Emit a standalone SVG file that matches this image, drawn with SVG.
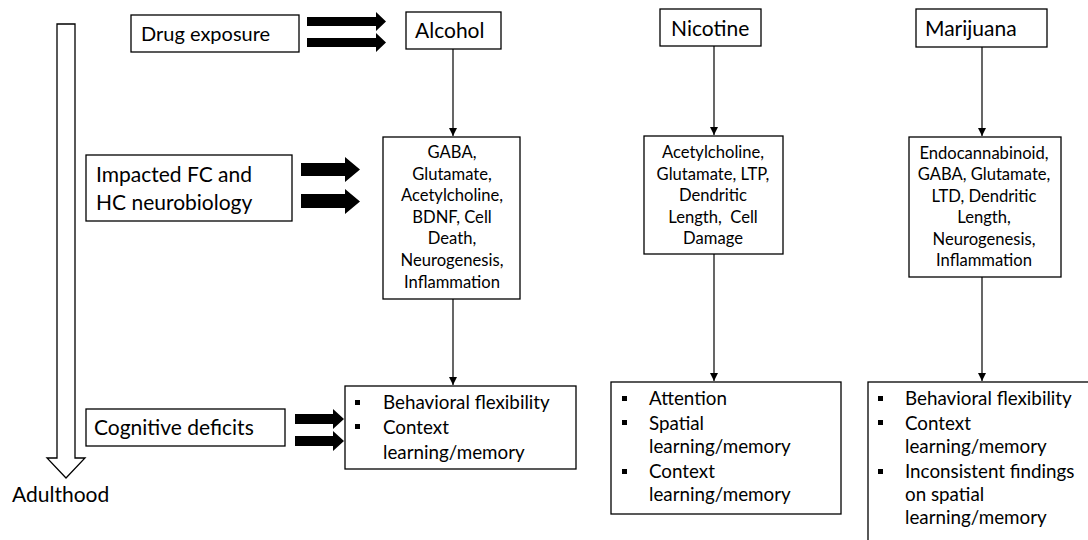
<svg xmlns="http://www.w3.org/2000/svg" width="1088" height="540" viewBox="0 0 1088 540">
<style>
.box{fill:#fff;stroke:#000;stroke-width:1.3}
.ln{stroke:#000;stroke-width:1.2;fill:none}
.fat{fill:#000}
text{font-family:Lato,"Open Sans",sans-serif;fill:#000}
.t21{font-size:21px}
.t20{font-size:20px}
.t19{font-size:18.8px}
.t16{font-size:16.6px}
.c{text-anchor:middle}
</style>
<defs>
<marker id="ah" markerWidth="10" markerHeight="10" refX="8" refY="5" orient="auto" markerUnits="userSpaceOnUse">
<path d="M0,1 L8,5 L0,9 Z" fill="#000"/>
</marker>
</defs>

<g id="timeline">
<path d="M57,24 H75 V458 H85 L66,478 L47,458 H57 Z" fill="#fff" stroke="#000" stroke-width="1.3"/>
<text x="12" y="502" class="t21">Adulthood</text>
</g>

<g id="drug-exposure">
<rect class="box" x="131" y="15" width="168" height="37"/>
<text x="141" y="41" class="t20">Drug exposure</text>
</g>
<g id="impacted">
<rect class="box" x="86" y="155" width="206" height="66"/>
<text x="96" y="182" class="t21">Impacted FC and</text>
<text x="96" y="210" class="t21">HC neurobiology</text>
</g>
<g id="cognitive">
<rect class="box" x="86" y="409" width="199" height="37"/>
<text x="94" y="435" class="t21">Cognitive deficits</text>
</g>

<g id="alcohol">
<rect class="box" x="406" y="12" width="95" height="37"/>
<text x="415" y="38" class="t21">Alcohol</text>
</g>
<g id="alcohol-neuro">
<rect class="box" x="383" y="137" width="137" height="162"/>
<text class="t16 c" x="452" y="158">GABA,</text>
<text class="t16 c" x="452" y="180">Glutamate,</text>
<text class="t16 c" x="452" y="201">Acetylcholine,</text>
<text class="t16 c" x="452" y="223">BDNF, Cell</text>
<text class="t16 c" x="452" y="244">Death,</text>
<text class="t16 c" x="452" y="266">Neurogenesis,</text>
<text class="t16 c" x="452" y="288">Inflammation</text>
</g>
<g id="alcohol-cog">
<rect class="box" x="345" y="386" width="231" height="83"/>
<rect x="355" y="400" width="5" height="5" class="fat"/>
<text x="383" y="409" class="t19">Behavioral flexibility</text>
<rect x="355" y="424" width="5" height="5" class="fat"/>
<text x="383" y="434" class="t19">Context</text>
<text x="383" y="459" class="t19">learning/memory</text>
</g>

<g id="nicotine">
<rect class="box" x="660" y="9" width="101" height="37"/>
<text x="671" y="36" class="t21">Nicotine</text>
</g>
<g id="nicotine-neuro">
<rect class="box" x="644" y="136" width="139" height="118"/>
<text class="t16 c" x="713" y="158">Acetylcholine,</text>
<text class="t16 c" x="713" y="180">Glutamate, LTP,</text>
<text class="t16 c" x="713" y="201">Dendritic</text>
<text class="t16 c" x="713" y="223" xml:space="preserve">Length,  Cell</text>
<text class="t16 c" x="713" y="244">Damage</text>
</g>
<g id="nicotine-cog">
<rect class="box" x="611" y="382" width="230" height="132"/>
<rect x="622" y="396" width="5" height="5" class="fat"/>
<text x="649" y="405" class="t19">Attention</text>
<rect x="622" y="420" width="5" height="5" class="fat"/>
<text x="649" y="430" class="t19">Spatial</text>
<text x="649" y="453" class="t19">learning/memory</text>
<rect x="622" y="469" width="5" height="5" class="fat"/>
<text x="649" y="478" class="t19">Context</text>
<text x="649" y="501" class="t19">learning/memory</text>
</g>

<g id="marijuana">
<rect class="box" x="916" y="9" width="131" height="38"/>
<text x="925" y="36" class="t21">Marijuana</text>
</g>
<g id="marijuana-neuro">
<rect class="box" x="909" y="137" width="152" height="140"/>
<text class="t16 c" x="984" y="159">Endocannabinoid,</text>
<text class="t16 c" x="984" y="180">GABA, Glutamate,</text>
<text class="t16 c" x="984" y="202">LTD, Dendritic</text>
<text class="t16 c" x="984" y="223">Length,</text>
<text class="t16 c" x="984" y="245">Neurogenesis,</text>
<text class="t16 c" x="984" y="266">Inflammation</text>
</g>
<g id="marijuana-cog">
<rect class="box" x="868" y="382" width="240" height="200"/>
<rect x="878" y="396" width="5" height="5" class="fat"/>
<text x="905" y="405" class="t19">Behavioral flexibility</text>
<rect x="878" y="420" width="5" height="5" class="fat"/>
<text x="905" y="430" class="t19">Context</text>
<text x="905" y="453" class="t19">learning/memory</text>
<rect x="878" y="469" width="5" height="5" class="fat"/>
<text x="905" y="478" class="t19">Inconsistent findings</text>
<text x="905" y="501" class="t19">on spatial</text>
<text x="905" y="524" class="t19">learning/memory</text>
</g>

<g id="connectors">
<line class="ln" x1="453" y1="49" x2="453" y2="136" marker-end="url(#ah)"/>
<line class="ln" x1="453" y1="299" x2="453" y2="385" marker-end="url(#ah)"/>
<line class="ln" x1="714" y1="46" x2="714" y2="135" marker-end="url(#ah)"/>
<line class="ln" x1="714" y1="254" x2="714" y2="381" marker-end="url(#ah)"/>
<line class="ln" x1="982" y1="47" x2="982" y2="136" marker-end="url(#ah)"/>
<line class="ln" x1="982" y1="277" x2="982" y2="381" marker-end="url(#ah)"/>
<path class="fat" d="M307,17 H376 V12 L386,21.5 L376,31 V26 H307 Z"/>
<path class="fat" d="M307,38 H376 V33 L386,42.5 L376,52 V47 H307 Z"/>
<path class="fat" d="M301,163 H345 V157 L360,169.5 L345,182 V176 H301 Z"/>
<path class="fat" d="M301,194 H345 V189 L360,201.5 L345,214 V208 H301 Z"/>
<path class="fat" d="M295,414 H333 V409 L344,419 L333,429 V424 H295 Z"/>
<path class="fat" d="M295,436 H333 V431 L344,441 L333,451 V446 H295 Z"/>
</g>
</svg>
